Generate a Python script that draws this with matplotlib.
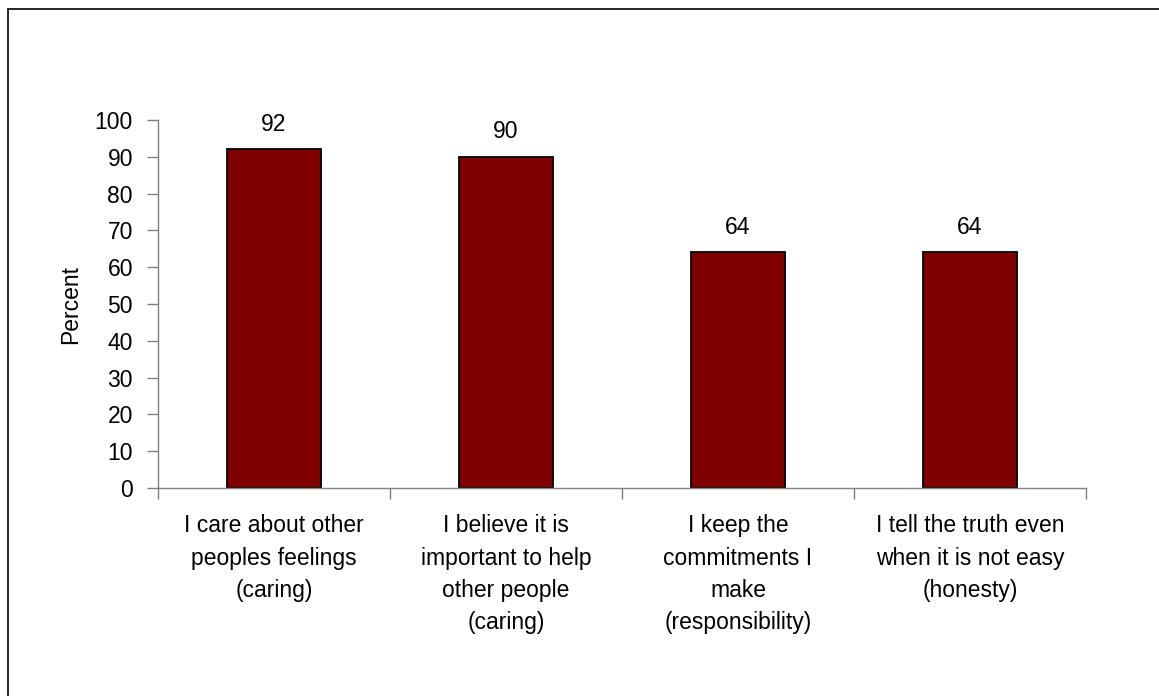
import matplotlib
matplotlib.use("Agg")
import matplotlib.pyplot as plt
from matplotlib.patches import Rectangle

categories = [
    "I care about other\npeoples feelings\n(caring)",
    "I believe it is\nimportant to help\nother people\n(caring)",
    "I keep the\ncommitments I\nmake\n(responsibility)",
    "I tell the truth even\nwhen it is not easy\n(honesty)",
]
percent = [92, 90, 64, 64]
y_ticks = list(range(0, 101, 10))

plt.rcParams["font.family"] = ["Liberation Sans", "DejaVu Sans"]
FS = 16.5

fig = plt.figure(figsize=(11.59, 6.96), dpi=100)
ax = fig.add_axes([158 / 1159, 1 - 488 / 696, (1086 - 158) / 1159, (488 - 120) / 696])

x = list(range(len(categories)))
ax.bar(x, percent, width=0.405, color="#800000", edgecolor="black", linewidth=1.3)

for xi, v in zip(x, percent):
    ax.annotate(str(v), (xi, v), xytext=(0, 18), textcoords="offset points",
                ha="center", va="center", fontsize=FS)

ax.set_xlim(-0.5, len(categories) - 0.5)
ax.set_ylim(0, 100)
ax.set_yticks(y_ticks)
ax.set_yticklabels([str(t) for t in y_ticks], fontsize=FS)
ax.set_xticks([i - 0.5 for i in range(len(categories) + 1)])
ax.set_xticklabels([])
ax.set_xticks(x, minor=True)
ax.set_xticklabels(categories, minor=True, fontsize=FS, linespacing=1.52, va="top")
ax.tick_params(axis="x", which="minor", length=0, pad=19)
ax.tick_params(axis="x", which="major", length=8, width=1, color="#808080", direction="out")
ax.tick_params(axis="y", length=8, width=1, color="#808080", direction="out", pad=10)

for side in ("top", "right"):
    ax.spines[side].set_visible(False)
for side in ("left", "bottom"):
    ax.spines[side].set_color("#808080")
    ax.spines[side].set_linewidth(1)

ax.set_ylabel("Percent", fontsize=FS)
ax.yaxis.set_label_coords(-(158 - 82) / (1086 - 158), 0.5)

# outer chart frame
fig.patches.append(Rectangle((8 / 1159, -0.05), 1.1, 1 - 9 / 696 + 0.05,
                             transform=fig.transFigure, fill=False,
                             edgecolor="black", linewidth=1.2))

fig.savefig("out.png", dpi=100)
